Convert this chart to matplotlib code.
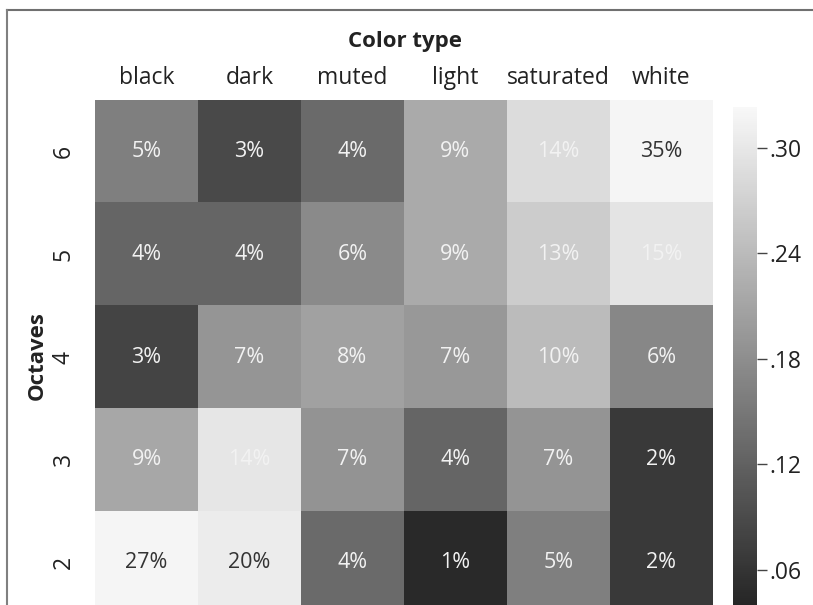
import numpy as np
import matplotlib
matplotlib.use("Agg")
import matplotlib.pyplot as plt
from matplotlib.colors import LinearSegmentedColormap
from matplotlib.lines import Line2D

plt.rcParams['font.family'] = ['Open Sans', 'DejaVu Sans']

# column / row labels
color_types = ["black", "dark", "muted", "light", "saturated", "white"]
octaves = ["6", "5", "4", "3", "2"]

# percentages written in the cells (top row = octave 6)
row_6 = [5, 3, 4, 9, 14, 35]
row_5 = [4, 4, 6, 9, 13, 15]
row_4 = [3, 7, 8, 7, 10, 6]
row_3 = [9, 14, 7, 4, 7, 2]
row_2 = [27, 20, 4, 1, 5, 2]

# cell shading
shade_6 = [0.162, 0.089, 0.132, 0.219, 0.285, 0.319]
shade_5 = [0.127, 0.127, 0.175, 0.219, 0.264, 0.297]
shade_4 = [0.082, 0.191, 0.207, 0.194, 0.241, 0.172]
shade_3 = [0.215, 0.299, 0.188, 0.127, 0.190, 0.067]
shade_2 = [0.319, 0.307, 0.132, 0.046, 0.162, 0.067]

cbar_ticks = [0.06, 0.12, 0.18, 0.24, 0.30]
cbar_labels = [".06", ".12", ".18", ".24", ".30"]

pct = np.array([row_6, row_5, row_4, row_3, row_2])
shade = np.array([shade_6, shade_5, shade_4, shade_3, shade_2])

cmap = LinearSegmentedColormap.from_list("grey", ["#222222", "#f8f8f8"])
vmin, vmax = 0.035, 0.323

fig = plt.figure(figsize=(8.13, 6.05), dpi=100)
ax = fig.add_axes([0.1169, -0.0149, 0.7600, 0.8496])
cax = fig.add_axes([0.9016, -0.0149, 0.0295, 0.8380])

im = ax.imshow(shade, cmap=cmap, vmin=vmin, vmax=vmax, aspect="auto",
               interpolation="nearest")

for i in range(pct.shape[0]):
    for j in range(pct.shape[1]):
        c = "#333333" if pct[i, j] >= 20 else "#f2f2f2"
        ax.text(j, i, f"{pct[i, j]}%", ha="center", va="center",
                fontsize=15.5, color=c)

ax.xaxis.tick_top()
ax.set_xticks(range(len(color_types)))
ax.set_xticklabels(color_types, fontsize=16.5, color="#222222")
ax.set_yticks(range(len(octaves)))
ax.set_yticklabels(octaves, fontsize=16.5, rotation=90, va="center",
                   color="#222222")
ax.tick_params(length=0)
ax.tick_params(axis="x", pad=7)
ax.tick_params(axis="y", pad=14)
for s in ax.spines.values():
    s.set_visible(False)

fig.text(0.498, 0.932, "Color type", ha="center", va="center",
         fontsize=16, fontweight="bold", color="#222222")
fig.text(0.046, 0.413, "Octaves", ha="center", va="center", rotation=90,
         fontsize=16, fontweight="bold", color="#222222")

cb = fig.colorbar(im, cax=cax)
cb.outline.set_visible(False)
cb.set_ticks(cbar_ticks)
cb.set_ticklabels(cbar_labels)
cax.tick_params(length=7, width=1, color="#444444", labelsize=16.5,
                labelcolor="#222222", pad=2)

# outer frame lines (top and left)
fig.add_artist(Line2D([0.0092, 1.0], [0.9835, 0.9835], color="#707070",
                      lw=1.5, transform=fig.transFigure))
fig.add_artist(Line2D([0.0092, 0.0092], [0.0, 0.9835], color="#808080",
                      lw=1.5, transform=fig.transFigure))

fig.savefig("out.png", dpi=100, facecolor="white")
